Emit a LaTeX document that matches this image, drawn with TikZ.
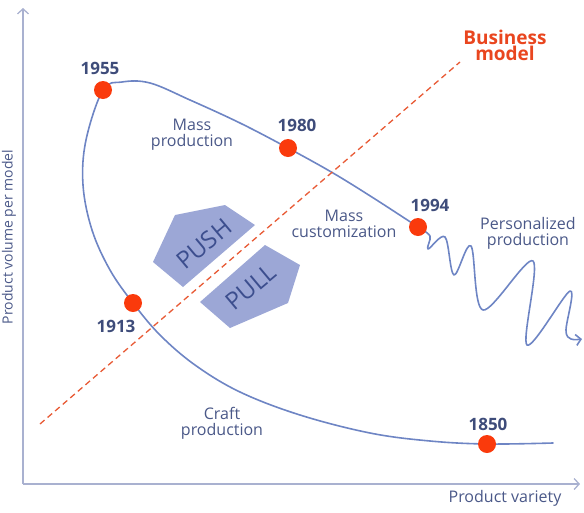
\documentclass[tikz,border=0pt]{standalone}
\usepackage{fontspec}
\setmainfont{Open Sans}
\usetikzlibrary{positioning, arrows.meta}
\definecolor{axisgray}{HTML}{A9B1D0}
\definecolor{curveblue}{HTML}{6E85C4}
\definecolor{dotred}{HTML}{FA3A0C}
\definecolor{yearblue}{HTML}{3E4C7A}
\definecolor{textblue}{HTML}{4A5888}
\definecolor{bizred}{HTML}{E9461F}
\definecolor{dashred}{HTML}{E85A35}
\definecolor{shapeblue}{HTML}{9CA7D6}
\definecolor{pptextblue}{HTML}{3C4E8E}

\begin{document}
\begin{tikzpicture}[
    x=1pt, y=-1pt,
    axis/.style={draw=axisgray, line width=1.3pt, -{Straight Barb[length=5pt, width=11pt]}},
    curve/.style={draw=curveblue, line width=1.6pt, line join=round, line cap=round},
    dot/.style={circle, fill=dotred, inner sep=0pt, minimum size=18pt},
    year/.style={font=\fontsize{17}{17}\selectfont\bfseries, text=yearblue},
    lbl/.style={font=\fontsize{16}{16}\selectfont, text=textblue, align=center},
    bizline/.style={draw=dashred, line width=1.3pt, dash pattern=on 6pt off 4pt},
    bizlabel/.style={font=\fontsize{19}{16}\selectfont\bfseries, text=bizred, align=center},
    pushpull/.style={fill=shapeblue},
    pptext/.style={font=\fontsize{24}{24}\selectfont, text=pptextblue, rotate=40, inner sep=0pt},
]
\useasboundingbox (0,0) rectangle (584,512);

% axes
\coordinate (origin) at (23,484);
\coordinate (ytop) at (23,8);
\coordinate (xend) at (580,484);
\draw[axis] (origin) -- (ytop);
\draw[axis] (origin) -- (xend);
\node[lbl, rotate=90, font=\fontsize{14}{14}\selectfont] (yaxislabel) at (9,237) {Product volume per model};
\node[lbl] (xaxislabel) at (505,498) {Product variety};

% push / pull
\fill[pushpull] (153,262) -- (175,215) -- (225,205) -- (255,225) -- (183,287) -- cycle;
\fill[pushpull] (200,302) -- (265,245) -- (300,265) -- (288,303) -- (230,328) -- cycle;
\node[pptext] (push) at (204,244) {PUSH};
\node[pptext] (pull) at (251,287) {PULL};

% production curve
\coordinate (p1850) at (487,444);
\coordinate (p1913) at (133,303);
\coordinate (p1955) at (103,90);
\coordinate (p1980) at (288,148);
\coordinate (p1994) at (418,227);
\draw[curve] plot[smooth, tension=0.6] coordinates {(553,443) (p1850) (430,441) (370,433) (300,415) (240,392) (195,365) (160,335) (p1913) (110,270) (92,230) (83,185) (86,140) (p1955) (122,82) (150,83) (190,100) (240,123) (p1980) (333,173) (375,199) (p1994)};
\draw[curve, -{Straight Barb[length=5pt, width=11pt]}] plot[smooth, tension=0.55] coordinates {(p1994) (430,236) (428,249) (445,237) (454,275) (471,246) (483,310) (533,261) (527,345) (570,291) (566,330) (571,339) (582,339)};

% business model
\coordinate (bm0) at (40,424);
\coordinate (bm1) at (460,62);
\draw[bizline] (bm0) -- (bm1);
\node[bizlabel] (bizmodel) at (505,45) {Business\\model};

\node[dot] (d1850) at (p1850) {};
\node[dot] (d1913) at (p1913) {};
\node[dot] (d1955) at (p1955) {};
\node[dot] (d1980) at (p1980) {};
\node[dot] (d1994) at (p1994) {};

\node[year] (y1955) at (100,68) {1955};
\node[year] (y1980) at (297,125) {1980};
\node[year] (y1994) at (430,205) {1994};
\node[year] (y1913) at (116,326) {1913};
\node[year] (y1850) at (488,424) {1850};

\node[lbl] (massprod) at (192,135) {Mass\\production};
\node[lbl] (masscust) at (344,224) {Mass\\customization};
\node[lbl] (persprod) at (528,233) {Personalized\\production};
\node[lbl] (craftprod) at (222,423) {Craft\\production};
\end{tikzpicture}
\end{document}
